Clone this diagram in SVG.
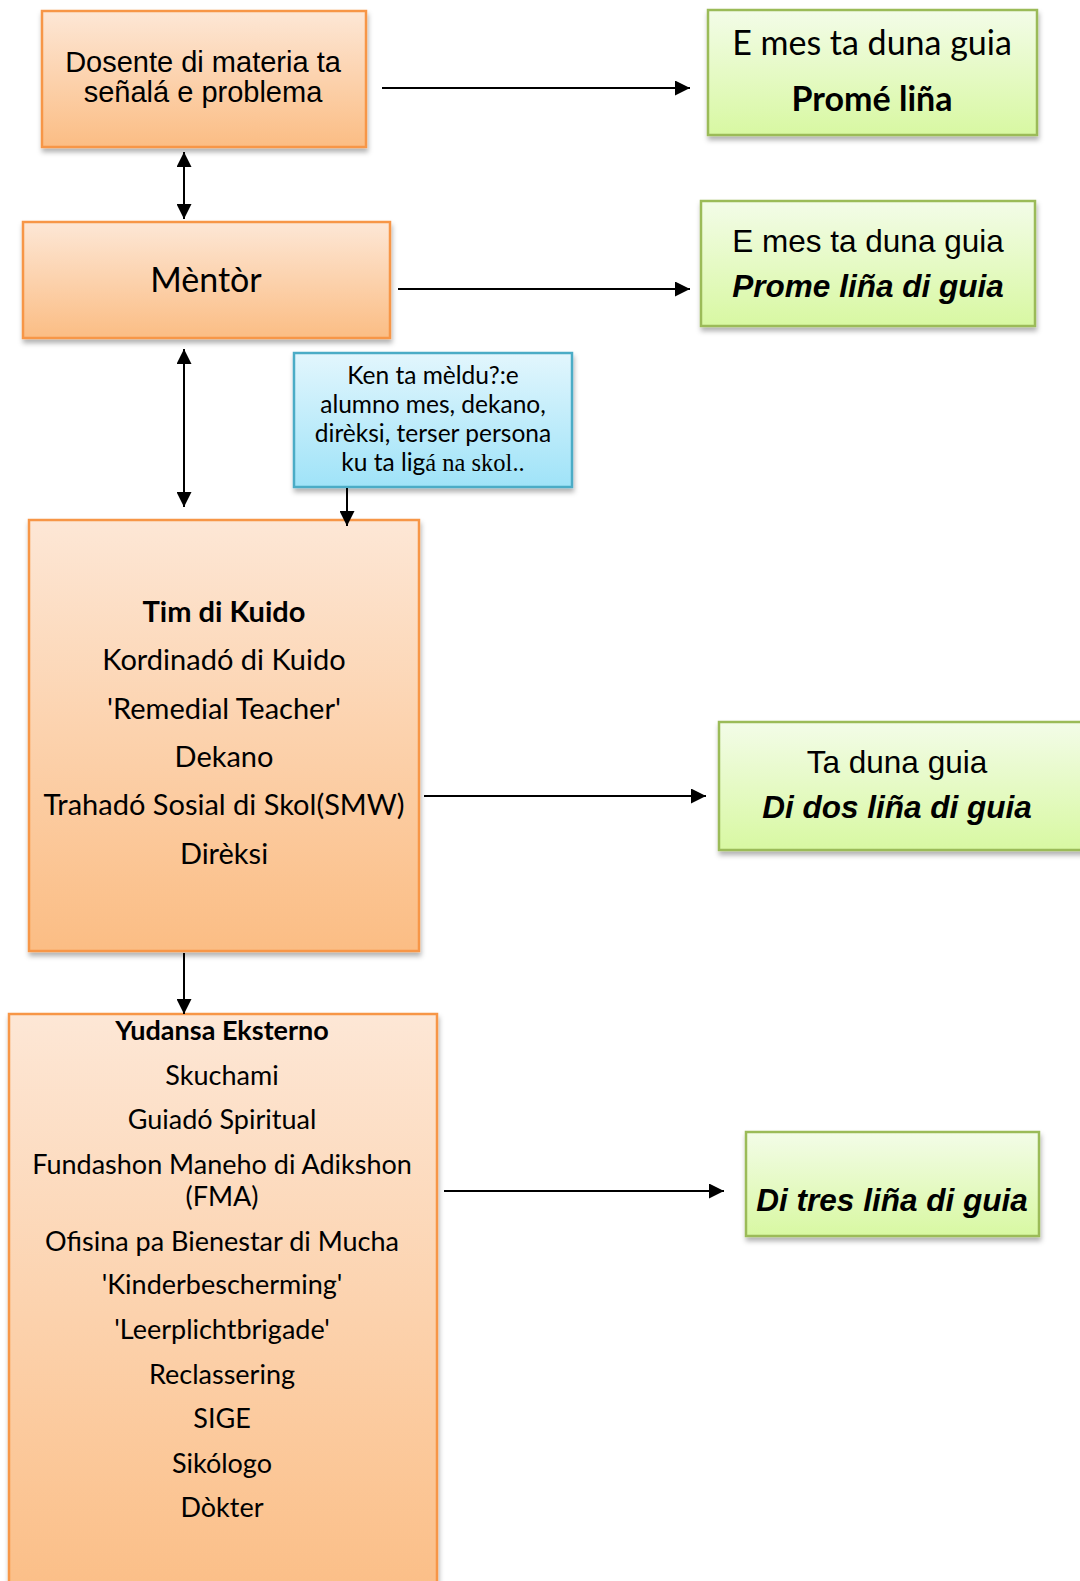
<svg xmlns="http://www.w3.org/2000/svg" width="1080" height="1581" viewBox="0 0 1080 1581">
<defs>
<linearGradient id="gOr" x1="0" y1="0" x2="0" y2="1">
<stop offset="0" stop-color="#fde7d6"/><stop offset="1" stop-color="#fbbd84"/>
</linearGradient>
<linearGradient id="gGr" x1="0" y1="0" x2="0" y2="1">
<stop offset="0" stop-color="#f3fce8"/><stop offset="1" stop-color="#d8f8a2"/>
</linearGradient>
<linearGradient id="gBl" x1="0" y1="0" x2="0" y2="1">
<stop offset="0" stop-color="#e2f6fd"/><stop offset="1" stop-color="#9fe3f8"/>
</linearGradient>
<filter id="sh" x="-10%" y="-10%" width="120%" height="130%">
<feDropShadow dx="1" dy="4" stdDeviation="2.5" flood-color="#000" flood-opacity="0.3"/>
</filter>
<marker id="ah" viewBox="0 0 10 10" refX="10" refY="5" markerWidth="16" markerHeight="15" markerUnits="userSpaceOnUse" orient="auto-start-reverse">
<path d="M0,0 L10,5 L0,10 z" fill="#000"/>
</marker>
</defs>
<style>
.or{fill:url(#gOr);stroke:#f79646;stroke-width:2.5;filter:url(#sh)}
.gr{fill:url(#gGr);stroke:#9bbb59;stroke-width:2.5;filter:url(#sh)}
.bl{fill:url(#gBl);stroke:#4bacc6;stroke-width:2.5;filter:url(#sh)}
.ar{font-family:"Liberation Sans",Arial,sans-serif;fill:#000;text-anchor:middle}
.cb{font-family:Lato,"Open Sans",sans-serif;fill:#000;text-anchor:middle}
.conn line{stroke:#000;stroke-width:2}
</style>
<rect width="1080" height="1581" fill="#fff"/>

<g id="node-dosente">
<rect class="or" x="42" y="11" width="324" height="136"/>
<text class="ar" x="203" y="72" font-size="29">Dosente di materia ta</text>
<text class="ar" x="203" y="102" font-size="29">señalá e problema</text>
</g>

<g id="node-mentor">
<rect class="or" x="23" y="222" width="367" height="116"/>
<text class="cb" x="206" y="292" font-size="34">Mèntòr</text>
</g>

<g id="node-prome-lina">
<rect class="gr" x="708" y="10" width="329" height="125"/>
<text class="cb" x="872" y="55" font-size="34">E mes ta duna guia</text>
<text class="cb" x="872" y="111" font-size="34" font-weight="bold">Promé liña</text>
</g>

<g id="node-prome-lina-guia">
<rect class="gr" x="701" y="201" width="334" height="125"/>
<text class="ar" x="868" y="252" font-size="31.5">E mes ta duna guia</text>
<text class="ar" x="868" y="297" font-size="31.5" font-weight="bold" font-style="italic">Prome liña di guia</text>
</g>

<g id="node-ken-ta-meldu">
<rect class="bl" x="294" y="353" width="278" height="134"/>
<text class="cb" x="433" y="384" font-size="24.5">Ken ta mèldu?:e</text>
<text class="cb" x="433" y="413" font-size="24.5">alumno mes, dekano,</text>
<text class="cb" x="433" y="442" font-size="24.5">dirèksi, terser persona</text>
<text class="cb" x="433" y="471" font-size="24.5">ku ta lig<tspan font-family="'Liberation Serif',serif">á na skol..</tspan></text>
</g>

<g id="node-tim-di-kuido">
<rect class="or" x="29" y="520" width="390" height="431"/>
<text class="cb" x="224" y="622" font-size="29" font-weight="bold">Tim di Kuido</text>
<text class="cb" x="224" y="670" font-size="29">Kordinadó di Kuido</text>
<text class="cb" x="224" y="719" font-size="29">'Remedial Teacher'</text>
<text class="cb" x="224" y="767" font-size="29">Dekano</text>
<text class="cb" x="224" y="815" font-size="29">Trahadó Sosial di Skol(SMW)</text>
<text class="cb" x="224" y="864" font-size="29">Dirèksi</text>
</g>

<g id="node-di-dos-lina">
<rect class="gr" x="719" y="722" width="390" height="128"/>
<text class="ar" x="897" y="773" font-size="31.5">Ta duna guia</text>
<text class="ar" x="897" y="818" font-size="31.5" font-weight="bold" font-style="italic">Di dos liña di guia</text>
</g>

<g id="node-yudansa-eksterno">
<rect class="or" x="9" y="1014" width="428" height="600"/>
<text class="cb" x="222" y="1040" font-size="27" font-weight="bold">Yudansa Eksterno</text>
<text class="cb" x="222" y="1085" font-size="27">Skuchami</text>
<text class="cb" x="222" y="1129" font-size="27">Guiadó Spiritual</text>
<text class="cb" x="222" y="1174" font-size="27">Fundashon Maneho di Adikshon</text>
<text class="cb" x="222" y="1206" font-size="27">(FMA)</text>
<text class="cb" x="222" y="1251" font-size="27">Ofisina pa Bienestar di Mucha</text>
<text class="cb" x="222" y="1294" font-size="27">'Kinderbescherming'</text>
<text class="cb" x="222" y="1339" font-size="27">'Leerplichtbrigade'</text>
<text class="cb" x="222" y="1384" font-size="27">Reclassering</text>
<text class="cb" x="222" y="1428" font-size="27">SIGE</text>
<text class="cb" x="222" y="1473" font-size="27">Sikólogo</text>
<text class="cb" x="222" y="1517" font-size="27">Dòkter</text>
</g>

<g id="node-di-tres-lina">
<rect class="gr" x="746" y="1132" width="293" height="104"/>
<text class="ar" x="892" y="1211" font-size="31.5" font-weight="bold" font-style="italic">Di tres liña di guia</text>
</g>

<g id="connectors" class="conn">
<line x1="382" y1="88" x2="690" y2="88" marker-end="url(#ah)"/>
<line x1="398" y1="289" x2="690" y2="289" marker-end="url(#ah)"/>
<line x1="424" y1="796" x2="706" y2="796" marker-end="url(#ah)"/>
<line x1="444" y1="1191" x2="724" y2="1191" marker-end="url(#ah)"/>
<line x1="184" y1="152" x2="184" y2="219" marker-start="url(#ah)" marker-end="url(#ah)"/>
<line x1="184" y1="349" x2="184" y2="507" marker-start="url(#ah)" marker-end="url(#ah)"/>
<line x1="347" y1="488" x2="347" y2="526" marker-end="url(#ah)"/>
<line x1="184" y1="953" x2="184" y2="1014" marker-end="url(#ah)"/>
</g>
</svg>
